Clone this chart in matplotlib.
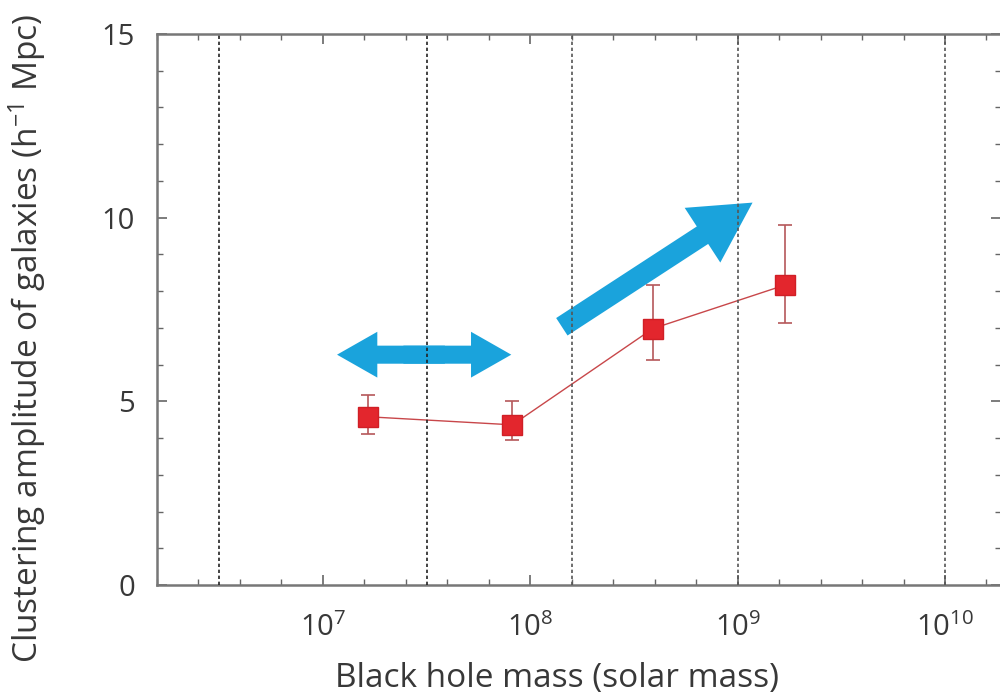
import matplotlib
matplotlib.use("Agg")
import matplotlib.pyplot as plt
import numpy as np
from matplotlib.patches import FancyArrowPatch
from matplotlib.ticker import FixedLocator, NullFormatter

plt.rcParams["font.family"] = ["Open Sans", "DejaVu Sans"]
plt.rcParams["mathtext.fontset"] = "custom"
plt.rcParams["mathtext.rm"] = "Open Sans"
plt.rcParams["mathtext.it"] = "Open Sans"

# данные
bh_mass = [1.65e7, 8.2e7, 3.9e8, 1.7e9]
amplitude = [4.58, 4.36, 6.98, 8.17]
err_low = [4.11, 3.95, 6.13, 7.14]
err_high = [5.18, 5.01, 8.17, 9.81]

vlines = [10**6.5, 10**7.5, 10**8.2, 1e9, 1e10]
x_range = (10**6.2, 10**10.27)
y_range = (0, 15)
y_ticks = [0, 5, 10, 15]

# стрелки: (начало, конец) в координатах данных
flat_arrow = ((1.17e7, 6.27), (8.1e7, 6.27))
rise_arrow = ((1.42e8, 7.03), (1.18e9, 10.41))

TEXT = "#383838"
ARROW = "#1aa3dc"

fig = plt.figure(figsize=(10, 6.98), dpi=100)
ax = fig.add_axes([0.157, 1 - 585 / 698, 1.001 - 0.157, (585 - 34) / 698])

ax.set_xscale("log")
ax.set_xlim(*x_range)
ax.set_ylim(*y_range)

# пунктиры поверх стрелок, как в оригинале
for i, xv in enumerate(vlines):
    ax.axvline(xv, color="#222" if i < 2 else "#555", lw=1.2, ls=(0, (2, 1.6)), zorder=6)

yerr = [np.subtract(amplitude, err_low), np.subtract(err_high, amplitude)]
ax.errorbar(bh_mass, amplitude, yerr=yerr, fmt="none", ecolor="#b5585a",
            elinewidth=1.2, capsize=5, capthick=1.2, zorder=2)
ax.plot(bh_mass, amplitude, color="#c8474a", lw=1.0, zorder=3)
ax.plot(bh_mass, amplitude, ls="none", marker="s", ms=14, color="#e3262d",
        mec="#d01f26", zorder=4)

# двойная горизонтальная стрелка: две половинки с перекрытием в середине
(x0, y0), (x1, y1) = flat_arrow
lm = (np.log10(x0) + np.log10(x1)) / 2
for end, start in ((x0, 10**(lm + 0.1)), (x1, 10**(lm - 0.1))):
    ax.add_patch(FancyArrowPatch((start, y0), (end, y0), shrinkA=0, shrinkB=0,
                                 arrowstyle="simple,head_length=29,head_width=33,tail_width=13",
                                 color=ARROW, lw=0, mutation_scale=1, zorder=5))

(x0, y0), (x1, y1) = rise_arrow
ax.add_patch(FancyArrowPatch((x0, y0), (x1, y1), shrinkA=0, shrinkB=0,
                             arrowstyle="simple,head_length=43,head_width=47,tail_width=15",
                             color=ARROW, lw=0, mutation_scale=1, zorder=5))

# оси и деления
ax.xaxis.set_major_locator(FixedLocator([1e7, 1e8, 1e9, 1e10]))
minor = [10**v for v in np.arange(6.2, 10.3, 0.2)]
ax.xaxis.set_minor_locator(FixedLocator(minor))
ax.xaxis.set_minor_formatter(NullFormatter())
ax.set_yticks(y_ticks)
ax.set_yticks(range(0, 16), minor=True)

ax.tick_params(which="both", direction="in", top=True, right=True, colors="#666",
               labelcolor=TEXT)
ax.tick_params(which="major", length=7, width=1.2, labelsize=21)
ax.tick_params(which="minor", length=4, width=1.0)
ax.tick_params(axis="x", which="major", pad=20)
ax.tick_params(axis="y", which="major", pad=16)
for s in ax.spines.values():
    s.set_color("#777")
    s.set_linewidth(1.8)

fig.text(557 / 1000, 1 - 678 / 698, "Black hole mass (solar mass)", ha="center",
         va="center", fontsize=24, color=TEXT)
fig.text(27 / 1000, 1 - 338 / 698, "Clustering amplitude of galaxies (h$^{-1}$ Mpc)",
         ha="center", va="center", rotation=90, fontsize=24, color=TEXT)

fig.savefig("out.png", dpi=100)
